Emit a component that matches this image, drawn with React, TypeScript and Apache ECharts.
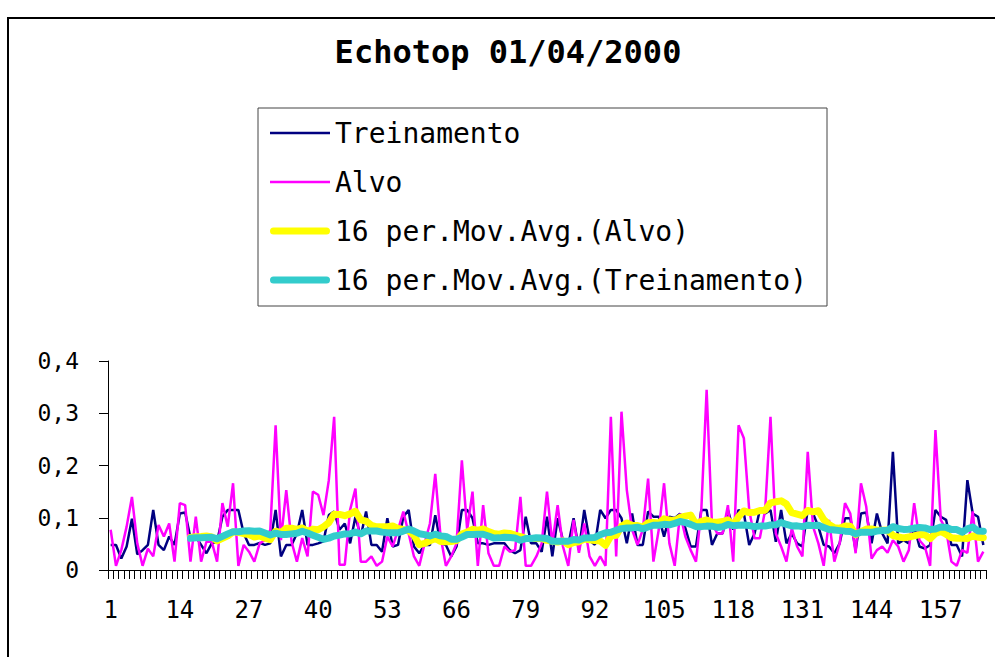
import React, { useEffect, useRef } from 'react';
import * as echarts from 'echarts';

const pointCount = 165;
const categories: string[] = Array.from({ length: pointCount }, (_, i) => String(i + 1));

const treinamento: number[] = [
  0.048, 0.048, 0.022, 0.045, 0.098, 0.030, 0.038, 0.048, 0.115, 0.048,
  0.038, 0.064, 0.048, 0.108, 0.110, 0.061, 0.064, 0.048, 0.032, 0.051,
  0.054, 0.102, 0.115, 0.115, 0.115, 0.070, 0.048, 0.048, 0.052, 0.048,
  0.051, 0.115, 0.026, 0.048, 0.048, 0.070, 0.115, 0.048, 0.048, 0.051,
  0.055, 0.105, 0.112, 0.077, 0.089, 0.051, 0.102, 0.064, 0.112, 0.048,
  0.048, 0.035, 0.099, 0.045, 0.048, 0.102, 0.115, 0.045, 0.032, 0.048,
  0.048, 0.105, 0.051, 0.048, 0.026, 0.045, 0.115, 0.115, 0.099, 0.051,
  0.051, 0.048, 0.051, 0.051, 0.051, 0.038, 0.032, 0.038, 0.102, 0.051,
  0.051, 0.035, 0.102, 0.026, 0.099, 0.057, 0.048, 0.099, 0.038, 0.115,
  0.057, 0.048, 0.115, 0.099, 0.115, 0.115, 0.099, 0.051, 0.108, 0.048,
  0.048, 0.112, 0.102, 0.102, 0.064, 0.102, 0.099, 0.108, 0.080, 0.045,
  0.045, 0.115, 0.115, 0.048, 0.070, 0.070, 0.115, 0.077, 0.115, 0.108,
  0.048, 0.070, 0.115, 0.108, 0.115, 0.054, 0.115, 0.051, 0.070, 0.051,
  0.045, 0.115, 0.108, 0.083, 0.048, 0.045, 0.032, 0.051, 0.099, 0.099,
  0.038, 0.108, 0.110, 0.051, 0.108, 0.070, 0.051, 0.226, 0.051, 0.057,
  0.051, 0.083, 0.045, 0.041, 0.048, 0.115, 0.102, 0.096, 0.048, 0.048,
  0.026, 0.172, 0.108, 0.102, 0.048,
];

const alvo: number[] = [
  0.077, 0.008, 0.038, 0.083, 0.140, 0.051, 0.008, 0.041, 0.026, 0.086,
  0.064, 0.089, 0.016, 0.128, 0.124, 0.016, 0.102, 0.016, 0.054, 0.054,
  0.016, 0.128, 0.083, 0.166, 0.008, 0.048, 0.035, 0.016, 0.051, 0.057,
  0.077, 0.277, 0.057, 0.153, 0.054, 0.016, 0.061, 0.026, 0.150, 0.144,
  0.105, 0.172, 0.293, 0.010, 0.010, 0.115, 0.156, 0.016, 0.016, 0.026,
  0.008, 0.016, 0.064, 0.045, 0.077, 0.112, 0.070, 0.026, 0.008, 0.051,
  0.089, 0.184, 0.064, 0.008, 0.026, 0.051, 0.210, 0.077, 0.150, 0.008,
  0.124, 0.032, 0.008, 0.008, 0.045, 0.035, 0.038, 0.140, 0.008, 0.008,
  0.026, 0.051, 0.150, 0.051, 0.124, 0.045, 0.008, 0.096, 0.033, 0.089,
  0.026, 0.008, 0.026, 0.008, 0.293, 0.026, 0.303, 0.153, 0.077, 0.048,
  0.077, 0.175, 0.016, 0.077, 0.166, 0.051, 0.008, 0.108, 0.064, 0.038,
  0.016, 0.115, 0.345, 0.089, 0.070, 0.070, 0.124, 0.016, 0.277, 0.252,
  0.115, 0.061, 0.061, 0.115, 0.293, 0.070, 0.045, 0.016, 0.080, 0.045,
  0.026, 0.226, 0.083, 0.051, 0.008, 0.096, 0.016, 0.051, 0.128, 0.108,
  0.032, 0.166, 0.121, 0.022, 0.038, 0.045, 0.033, 0.057, 0.045, 0.016,
  0.038, 0.128, 0.057, 0.045, 0.008, 0.268, 0.096, 0.077, 0.016, 0.008,
  0.038, 0.033, 0.112, 0.016, 0.035,
];

const yTicks: number[] = [0, 0.1, 0.2, 0.3, 0.4];
const titleText = 'Echotop 01/04/2000';
const seriesNames: string[] = [
  'Treinamento',
  'Alvo',
  '16 per.Mov.Avg.(Alvo)',
  '16 per.Mov.Avg.(Treinamento)',
];
const period = 16;

function movingAverage(values: number[], n: number): (number | null)[] {
  const out: (number | null)[] = [];
  for (let i = 0; i < values.length; i++) {
    if (i < n - 1) {
      out.push(null);
      continue;
    }
    let s = 0;
    for (let j = i - n + 1; j <= i; j++) s += values[j];
    out.push(s / n);
  }
  return out;
}

const FONT = '"DejaVu Sans Mono", monospace';
const thinIcon = 'path://M0,0L60,0L60,2.5L0,2.5Z';
const thickIcon = 'path://M3.5,0L56.5,0A3.5,3.5 0 0 1 56.5,7L3.5,7A3.5,3.5 0 0 1 3.5,0Z';

export default function App() {
  const ref = useRef<HTMLDivElement>(null);

  useEffect(() => {
    if (!ref.current) return;
    const chart = echarts.init(ref.current, undefined, { renderer: 'svg' });
    const maAlvo = movingAverage(alvo, period);
    const maTrein = movingAverage(treinamento, period);

    chart.setOption({
      animation: false,
      backgroundColor: '#ffffff',
      graphic: [
        {
          type: 'rect',
          silent: true,
          z: -10,
          shape: { x: 8, y: 18, width: 1200, height: 900 },
          style: { fill: 'none', stroke: '#000', lineWidth: 2 },
        },
        {
          type: 'text',
          x: 508,
          y: 52,
          style: {
            text: titleText,
            fontFamily: FONT,
            fontSize: 32,
            fontWeight: 'bold',
            fill: '#000',
            align: 'center',
            verticalAlign: 'middle',
          },
        },
      ],
      legend: {
        orient: 'vertical',
        left: 258,
        top: 108,
        padding: [11, 20, 12, 12],
        borderColor: '#444',
        borderWidth: 1,
        itemGap: 21,
        itemWidth: 60,
        itemHeight: 14,
        symbolKeepAspect: true,
        textStyle: { fontFamily: FONT, fontSize: 28, color: '#000', lineHeight: 28 },
        data: [
          { name: seriesNames[0], icon: thinIcon },
          { name: seriesNames[1], icon: thinIcon },
          { name: seriesNames[2], icon: thickIcon },
          { name: seriesNames[3], icon: thickIcon },
        ],
      },
      grid: { left: 108, right: 9, top: 361, bottom: 87, containLabel: false },
      xAxis: {
        type: 'category',
        data: categories,
        boundaryGap: true,
        axisLine: { lineStyle: { color: '#000', width: 1 } },
        axisTick: { show: true, interval: 0, length: 9, lineStyle: { color: '#000' } },
        axisLabel: {
          interval: 12,
          fontFamily: FONT,
          fontSize: 24,
          color: '#000',
          margin: 28,
        },
        splitLine: { show: false },
      },
      yAxis: {
        type: 'value',
        min: yTicks[0],
        max: yTicks[yTicks.length - 1],
        interval: 0.1,
        axisLine: { show: true, lineStyle: { color: '#000', width: 1 } },
        axisTick: { show: true, length: 9, lineStyle: { color: '#000' } },
        axisLabel: {
          fontFamily: FONT,
          fontSize: 23,
          color: '#000',
          margin: 29,
          formatter: (v: number) => (v === 0 ? '0' : v.toFixed(1).replace('.', ',')),
        },
        splitLine: { show: false },
      },
      series: [
        {
          name: seriesNames[0],
          type: 'line',
          data: treinamento,
          symbol: 'none',
          color: '#000080',
          lineStyle: { color: '#000080', width: 2.5 },
          z: 2,
        },
        {
          name: seriesNames[1],
          type: 'line',
          data: alvo,
          symbol: 'none',
          color: '#FF00FF',
          lineStyle: { color: '#FF00FF', width: 2.5 },
          z: 3,
        },
        {
          name: seriesNames[2],
          type: 'line',
          data: maAlvo,
          symbol: 'none',
          color: '#FFFF00',
          lineStyle: { color: '#FFFF00', width: 7, cap: 'round', join: 'round' },
          z: 4,
        },
        {
          name: seriesNames[3],
          type: 'line',
          data: maTrein,
          symbol: 'none',
          color: '#33CCCC',
          lineStyle: { color: '#33CCCC', width: 7, cap: 'round', join: 'round' },
          z: 5,
        },
      ],
    });

    return () => chart.dispose();
  }, []);

  return (
    <div
      ref={ref}
      style={{ position: 'fixed', left: 0, top: 0, width: 995, height: 657 }}
    />
  );
}
